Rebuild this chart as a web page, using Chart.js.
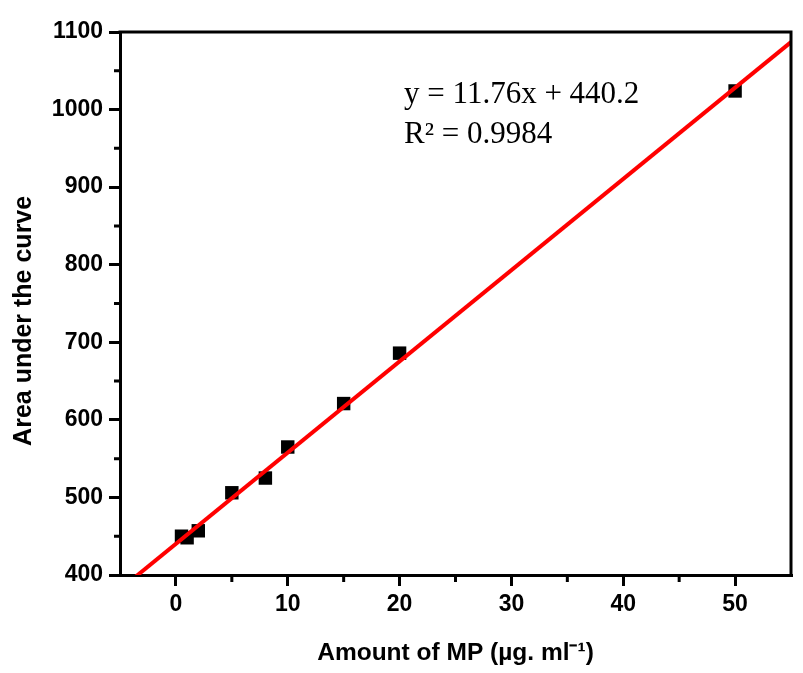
<!DOCTYPE html>
<html>
<head>
<meta charset="utf-8">
<script src="https://cdn.jsdelivr.net/npm/chart.js@4/dist/chart.umd.min.js"></script>
<style>
  html, body { margin: 0; padding: 0; background: #ffffff; }
  #wrap { width: 803px; height: 673px; }
</style>
</head>
<body>
<div id="wrap"><canvas id="c" width="803" height="673"></canvas></div>
<script>
// Data
const concentrations = [0.5, 1, 2, 5, 8, 10, 15, 20, 50];
const areas = [450, 448, 457, 506, 525, 565, 621, 686, 1024];
// Fit line endpoints (y = 11.76x + 440.2), at the axis limits
const fitX = [-5, 55];
const fitY = [381.4, 1087.0];
const xTicks = [0, 10, 20, 30, 40, 50];
const yTicks = [400, 500, 600, 700, 800, 900, 1000, 1100];
const equationLines = ['y = 11.76x + 440.2', 'R\u00b2 = 0.9984'];
const annotationPos = [20.4, 1008];
const xTitle = 'Amount of MP (\u00b5g. ml\u207b\u00b9)';
const yTitle = 'Area under the curve\u00a0\u00a0\u00a0\u00a0\u00a0';

const scatterData = concentrations.map((x, i) => ({ x: x, y: areas[i] }));
const fitData = fitX.map((x, i) => ({ x: x, y: fitY[i] }));

const framePlugin = {
  id: 'frame',
  afterDraw(chart) {
    const ctx = chart.ctx;
    const a = chart.chartArea;
    const xs = chart.scales.x, ys = chart.scales.y;
    ctx.save();
    // minor ticks
    ctx.strokeStyle = '#000';
    ctx.lineWidth = 3;
    ctx.beginPath();
    for (let v = -5; v <= 55; v += 10) {
      const px = xs.getPixelForValue(v);
      if (px > a.left + 2 && px < a.right - 2) {
        ctx.moveTo(px, a.bottom);
        ctx.lineTo(px, a.bottom + 7);
      }
    }
    for (let v = 450; v < 1100; v += 100) {
      const py = ys.getPixelForValue(v);
      ctx.moveTo(a.left, py);
      ctx.lineTo(a.left - 6, py);
    }
    ctx.stroke();
    // frame (top + right)
    ctx.lineWidth = 3;
    ctx.beginPath();
    ctx.moveTo(a.left - 1.5, a.top);
    ctx.lineTo(a.right, a.top);
    ctx.lineTo(a.right, a.bottom + 1.5);
    ctx.stroke();
    // equation text
    ctx.fillStyle = '#000';
    ctx.font = '31px "Liberation Serif", "Times New Roman", serif';
    ctx.textAlign = 'left';
    ctx.textBaseline = 'alphabetic';
    const tx = xs.getPixelForValue(annotationPos[0]);
    const ty = ys.getPixelForValue(annotationPos[1]);
    equationLines.forEach((t, i) => ctx.fillText(t, tx, ty + i * 40));
    ctx.restore();
  }
};

new Chart(document.getElementById('c'), {
  type: 'scatter',
  data: {
    datasets: [
      {
        type: 'line',
        data: fitData,
        borderColor: '#ff0000',
        borderWidth: 4,
        pointRadius: 0,
        fill: false,
        order: 0
      },
      {
        type: 'scatter',
        data: scatterData,
        pointStyle: 'rect',
        pointRadius: 9.5,
        backgroundColor: '#000',
        borderColor: '#000',
        borderWidth: 0,
        order: 1
      }
    ]
  },
  options: {
    responsive: false,
    animation: false,
    events: [],
    layout: { padding: { left: 0, right: 12, top: 32, bottom: 0 } },
    plugins: { legend: { display: false }, tooltip: { enabled: false } },
    scales: {
      x: {
        type: 'linear',
        min: -5,
        max: 55,
        afterBuildTicks(scale) {
          scale.ticks = xTicks.map(v => ({ value: v }));
        },
        afterFit(scale) { scale.height = 98; },
        border: { display: true, color: '#000', width: 3 },
        grid: { drawOnChartArea: false, drawTicks: true, tickLength: 11, color: '#000', lineWidth: 3 },
        ticks: {
          color: '#000',
          padding: 5,
          callback: v => String(v),
          font: { family: '"Liberation Sans", Arial, sans-serif', size: 23, weight: 'bold' }
        },
        title: {
          display: true,
          text: xTitle,
          color: '#000',
          padding: { top: 0, bottom: 5 },
          font: { family: '"Liberation Sans", Arial, sans-serif', size: 24.5, weight: 'bold' }
        }
      },
      y: {
        type: 'linear',
        min: 400,
        max: 1100,
        afterBuildTicks(scale) {
          scale.ticks = yTicks.map(v => ({ value: v }));
        },
        afterFit(scale) { scale.width = 120; },
        border: { display: true, color: '#000', width: 3 },
        grid: { drawOnChartArea: false, drawTicks: true, tickLength: 11, color: '#000', lineWidth: 3 },
        ticks: {
          color: '#000',
          padding: 6,
          callback: v => String(v),
          font: { family: '"Liberation Sans", Arial, sans-serif', size: 23, weight: 'bold' }
        },
        title: {
          display: true,
          text: yTitle,
          color: '#000',
          padding: { top: 9, bottom: 0 },
          font: { family: '"Liberation Sans", Arial, sans-serif', size: 25, weight: 'bold' }
        }
      }
    }
  },
  plugins: [framePlugin]
});
</script>
</body>
</html>
